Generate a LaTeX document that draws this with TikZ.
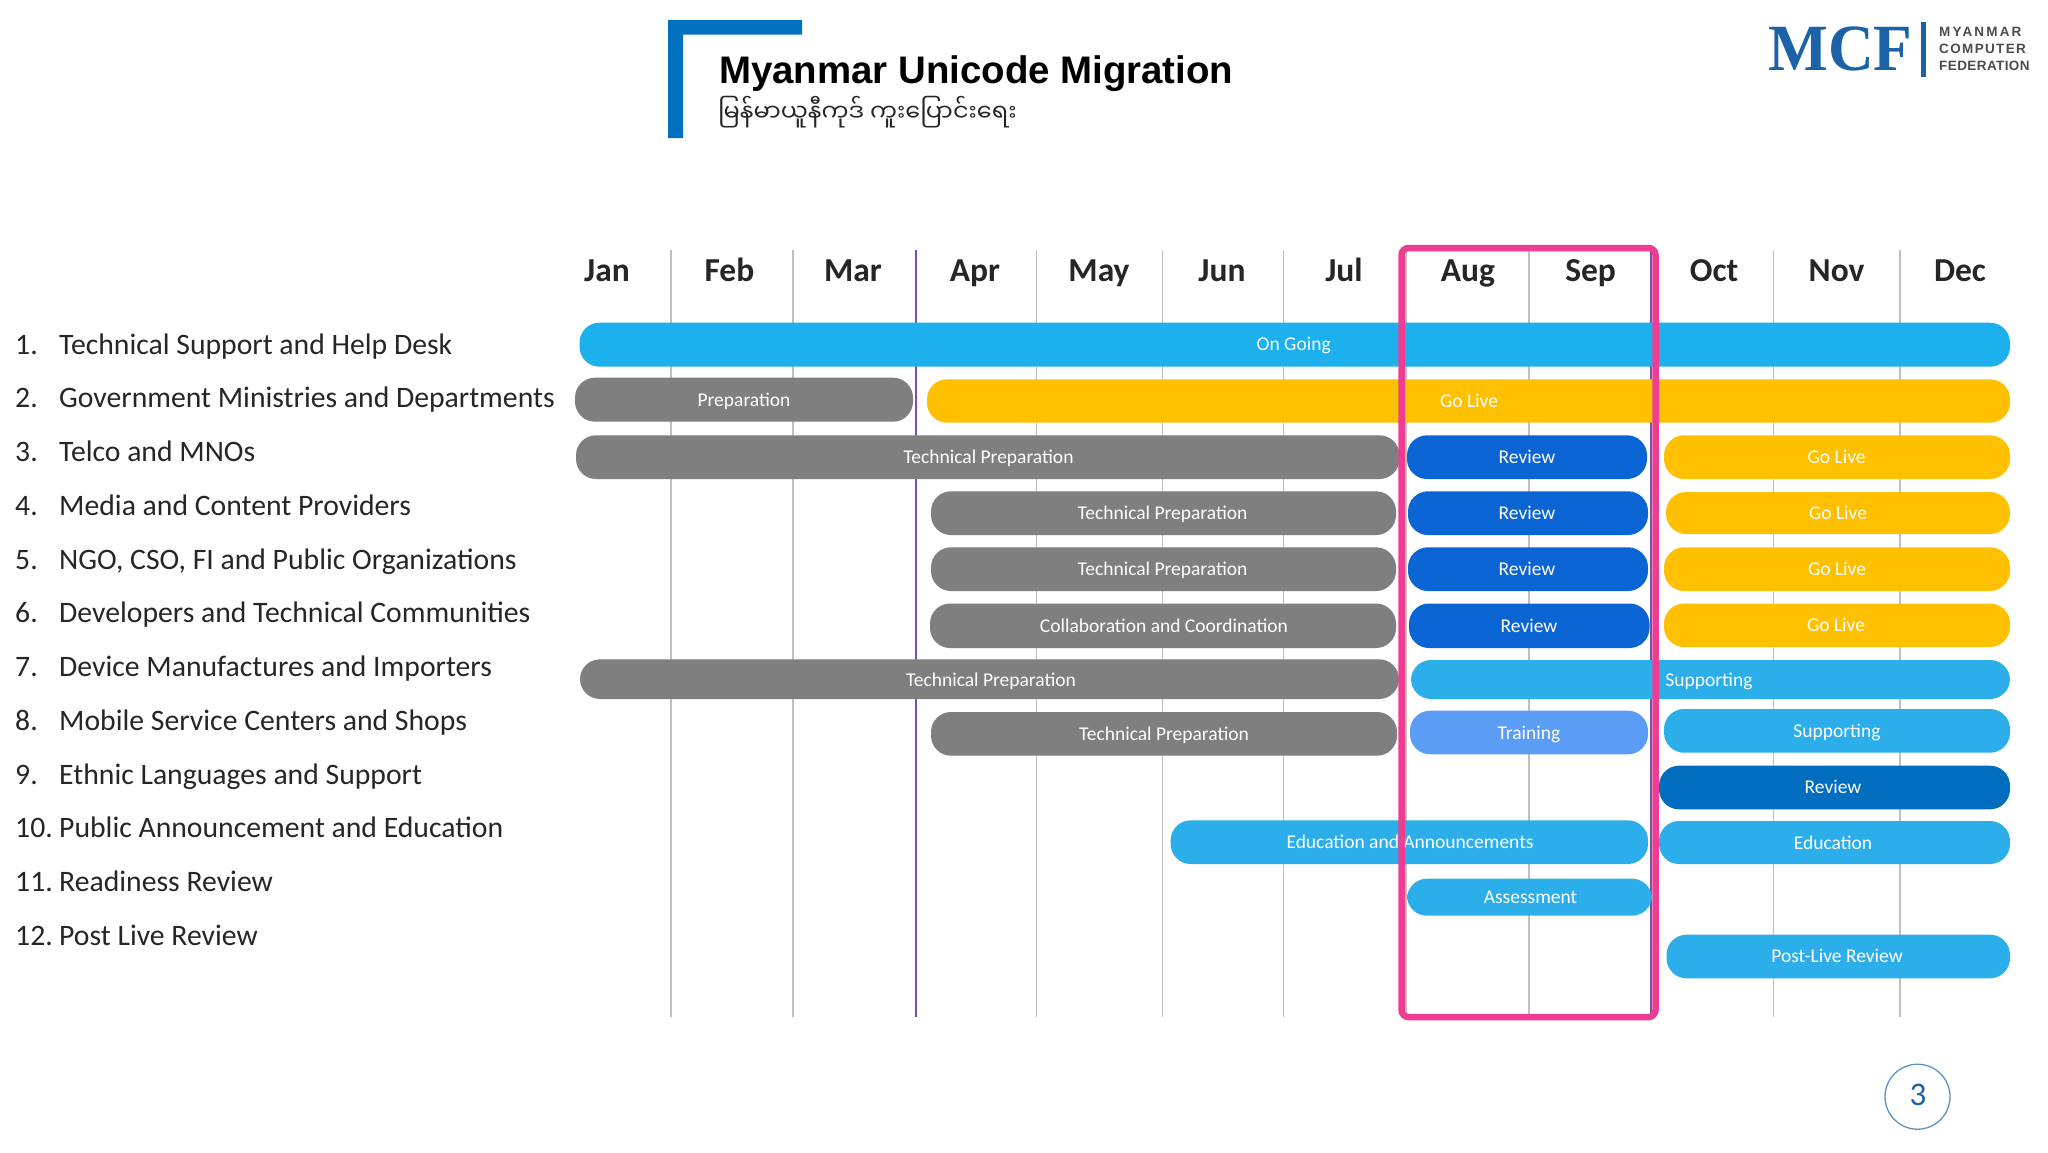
\documentclass[tikz,border=0pt]{standalone}
\usepackage{fontspec}
\setmainfont{Carlito}
\newfontfamily\titlefont{Liberation Sans}
\newfontfamily\logofont{Liberation Serif}
\newfontfamily\myfont[Script=Myanmar]{Noto Sans Myanmar UI}
\definecolor{ongoing}{HTML}{1CB0EC}
\definecolor{golive}{HTML}{FFC000}
\definecolor{prep}{HTML}{7F7F7F}
\definecolor{reviewb}{HTML}{0B64D3}
\definecolor{sky}{HTML}{2CAEEA}
\definecolor{trainb}{HTML}{5B9DF5}
\definecolor{reviewd}{HTML}{006DBE}
\definecolor{pinkbox}{HTML}{EF3E92}
\definecolor{gridc}{HTML}{BFBFBF}
\definecolor{gridp}{HTML}{7A4FA8}
\definecolor{brand}{HTML}{0070C0}
\definecolor{logob}{HTML}{1B62A8}
\definecolor{inkc}{HTML}{262626}
\tikzset{
  x=1pt,y=-1pt,
  gridline/.style={draw=gridc,line width=1.5pt},
  purpleline/.style={draw=gridp,line width=1.5pt},
  barlabel/.style={text=white,inner sep=0pt,text height=12.5pt,text depth=0pt,font=\fontsize{19.5}{24}\selectfont},
  monthlabel/.style={text=inkc,inner sep=0pt,anchor=base,font=\fontsize{33.5}{36}\selectfont\bfseries},
  listtext/.style={text=inkc,inner sep=0pt,anchor=base west,font=\fontsize{29.7}{34}\selectfont},
  logosmall/.style={text=black!70,inner sep=0pt,anchor=base west}
}
\newcommand{\ganttbar}[9]{%
  \fill[#5,rounded corners=20pt] (#1,#2) rectangle (#3,#4);
  \node[barlabel] (#9) at (#6,#7) {#8};
}
\begin{document}
\begin{tikzpicture}
\useasboundingbox (0,0) rectangle (2048,1152);
\fill[white] (0,0) rectangle (2048,1152);

% title
\fill[brand] (668,20) -- (802,20) -- (802,34.5) -- (683,34.5) -- (683,138) -- (668,138) -- cycle;
\node[inner sep=0pt,anchor=base west,font=\fontsize{38.4}{42}\selectfont\titlefont\bfseries] (title) at (719,83) {Myanmar Unicode Migration};
\node[inner sep=0pt,anchor=base west,font=\fontsize{24}{30}\selectfont\myfont,text=inkc] (subtitle) at (718,121) {မြန်မာယူနီကုဒ် ကူးပြောင်းရေး};

% logo
\node[inner sep=0pt,anchor=base west,text=logob,font=\fontsize{66}{70}\selectfont\logofont\bfseries,xscale=0.96,transform shape] (mcf) at (1768,70.7) {MCF};
\fill[logob] (1921,21.5) rectangle (1926,76.5);
\node[logosmall,font=\fontsize{13.5}{15}\selectfont\titlefont\bfseries\addfontfeature{LetterSpace=16}] (lg1) at (1939,36.7) {MYANMAR};
\node[logosmall,font=\fontsize{13.5}{15}\selectfont\titlefont\bfseries\addfontfeature{LetterSpace=10}] (lg2) at (1939,53) {COMPUTER};
\node[logosmall,font=\fontsize{13.5}{15}\selectfont\titlefont\bfseries\addfontfeature{LetterSpace=3}] (lg3) at (1939,70.7) {FEDERATION};

% grid lines
\foreach \gx in {671,793,1036.5,1162.5,1283.5,1406,1529,1773.5,1900}
  \draw[gridline] (\gx,250) -- (\gx,1017);
\draw[purpleline] (916,250) -- (916,1017);
\draw[purpleline] (1651,250) -- (1651,1017);

% months
\node[monthlabel] (jan) at (607,281.5) {Jan};
\node[monthlabel] (feb) at (729.4,281.5) {Feb};
\node[monthlabel] (mar) at (853,281.5) {Mar};
\node[monthlabel] (apr) at (975,281.5) {Apr};
\node[monthlabel] (may) at (1099,281.5) {May};
\node[monthlabel] (jun) at (1222,281.5) {Jun};
\node[monthlabel] (jul) at (1344,281.5) {Jul};
\node[monthlabel] (aug) at (1468,281.5) {Aug};
\node[monthlabel] (sep) at (1590.6,281.5) {Sep};
\node[monthlabel] (oct) at (1714,281.5) {Oct};
\node[monthlabel] (nov) at (1836.6,281.5) {Nov};
\node[monthlabel] (dec) at (1960,281.5) {Dec};

% list
\foreach \num/\txt [count=\i from 0] in {
  1./Technical Support and Help Desk,
  2./Government Ministries and Departments,
  3./Telco and MNOs,
  4./Media and Content Providers,
  5./{NGO, CSO, FI and Public Organizations},
  6./Developers and Technical Communities,
  7./Device Manufactures and Importers,
  8./Mobile Service Centers and Shops,
  9./Ethnic Languages and Support,
  10./Public Announcement and Education,
  11./Readiness Review,
  12./Post Live Review}{
  \node[listtext] (n\i) at (15,354+53.75*\i) {\num};
  \node[listtext] (t\i) at (59,354+53.75*\i) {\txt};
}

% bars
\ganttbar{579.5}{322.7}{2010}{366.7}{ongoing}{1293.7}{344.7}{On Going}{b1}
\ganttbar{575}{377.7}{913}{421.7}{prep}{744}{400}{Preparation}{b2a}
\ganttbar{927}{379.3}{2010}{422.7}{golive}{1469}{401}{Go Live}{b2b}
\ganttbar{576}{435.3}{1399.5}{479}{prep}{988.6}{457}{Technical Preparation}{b3a}
\ganttbar{1407}{435.3}{1647}{479}{reviewb}{1527}{457}{Review}{b3b}
\ganttbar{1664}{435.3}{2010}{479}{golive}{1836.6}{457}{Go Live}{b3c}
\ganttbar{931}{491.3}{1396}{535}{prep}{1162.5}{513}{Technical Preparation}{b4a}
\ganttbar{1408}{491.3}{1648}{535}{reviewb}{1527}{513}{Review}{b4b}
\ganttbar{1666}{492}{2010}{534}{golive}{1838}{513}{Go Live}{b4c}
\ganttbar{931}{547.3}{1396}{591}{prep}{1162.5}{569}{Technical Preparation}{b5a}
\ganttbar{1408}{547.3}{1648}{591}{reviewb}{1527}{569}{Review}{b5b}
\ganttbar{1664}{547.3}{2010}{591}{golive}{1837}{569}{Go Live}{b5c}
\ganttbar{930}{603.5}{1396}{648}{prep}{1164}{626}{Collaboration and Coordination}{b6a}
\ganttbar{1409}{603.5}{1649.5}{648}{reviewb}{1529}{626}{Review}{b6b}
\ganttbar{1664}{603.5}{2010}{647}{golive}{1836}{625}{Go Live}{b6c}
\ganttbar{580}{659.3}{1399}{699}{prep}{991}{680}{Technical Preparation}{b7a}
\ganttbar{1411}{660}{2010}{699}{sky}{1709}{680}{Supporting}{b7b}
\ganttbar{931}{712}{1397}{755.7}{prep}{1164}{734}{Technical Preparation}{b8a}
\ganttbar{1410}{710.7}{1648}{754.3}{trainb}{1529}{733}{Training}{b8b}
\ganttbar{1664}{709}{2010}{752.7}{sky}{1837}{731}{Supporting}{b8c}
\ganttbar{1659}{765.7}{2010}{809.3}{reviewd}{1833}{787.7}{Review}{b9}
\ganttbar{1170.7}{820.3}{1648}{864}{sky}{1410}{842}{Education and Announcements}{b10a}
\ganttbar{1659}{821}{2010}{864}{sky}{1833}{843}{Education}{b10b}
\ganttbar{1407}{878.7}{1652}{915.7}{sky}{1530.5}{897}{Assessment}{b11}
\ganttbar{1666.5}{934.7}{2010}{978.3}{sky}{1837}{956.7}{Post-Live Review}{b12}

% highlight
\draw[pinkbox,line width=6.5pt,rounded corners=7pt] (1401.5,248) rectangle (1655.5,1017);

% page number
\node[circle,draw=logob!70,line width=1.3pt,minimum size=65pt,inner sep=0pt] (page) at (1917.5,1096.7) {};
\node[inner sep=0pt,text=logob,font=\fontsize{33}{36}\selectfont] (pagenum) at (1918,1094.5) {3};
\end{tikzpicture}
\end{document}
